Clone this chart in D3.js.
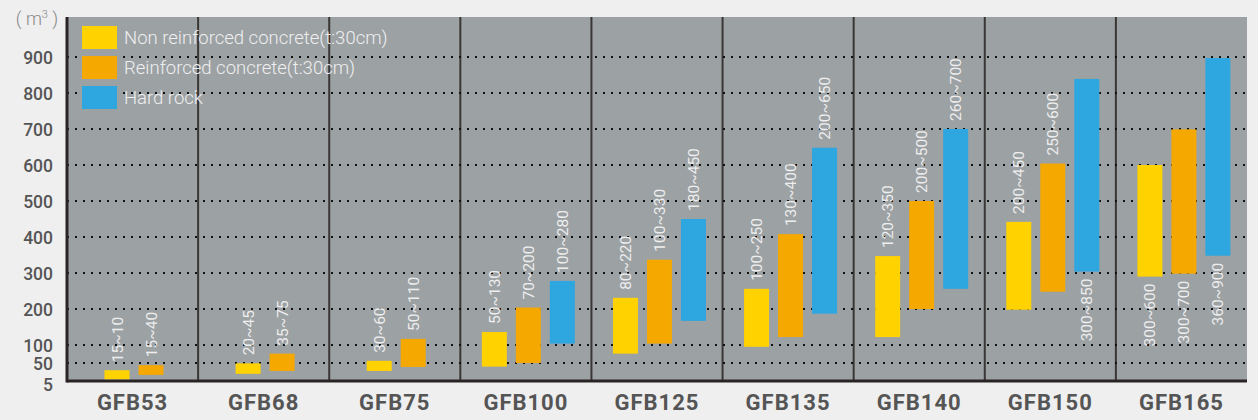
<!DOCTYPE html>
<html>
<head>
<meta charset="utf-8">
<script src="https://cdn.jsdelivr.net/npm/d3@7"></script>
<style>
  html, body { margin: 0; padding: 0; background: #efefef; }
  svg { display: block; }
</style>
</head>
<body>
<div id="chart"></div>
<script>
// categories and series (ranges, labels as printed)
const models = ['GFB53', 'GFB68', 'GFB75', 'GFB100', 'GFB125', 'GFB135', 'GFB140', 'GFB150', 'GFB165'];
const seriesNames = ['Non reinforced concrete(t:30cm)', 'Reinforced concrete(t:30cm)', 'Hard rock'];

const nonReinforcedLow  = [5, 20, 28, 40, 76, 95, 122, 198, 290];
const nonReinforcedHigh = [30, 49, 56, 136, 231, 256, 347, 442, 600];
const reinforcedLow     = [17, 28, 39, 50, 104, 122, 200, 248, 298];
const reinforcedHigh    = [44, 76, 117, 204, 337, 408, 500, 604, 699];
const hardRockLow       = [null, null, null, 104, 167, 187, 256, 304, 348];
const hardRockHigh      = [null, null, null, 278, 450, 648, 700, 839, 897];

const nonReinforcedText = ['15~10', '20~45', '30~60', '50~130', '80~220', '100~250', '120~350', '200~450', '300~600'];
const reinforcedText    = ['15~40', '35~75', '50~110', '70~200', '100~330', '130~400', '200~500', '250~600', '300~700'];
const hardRockText      = [null, null, null, '100~280', '180~450', '200~650', '260~700', '300~850', '360~900'];

// labels printed under the bar instead of above it
const labelsBelow = { 'GFB150': [2], 'GFB165': [0, 1, 2] };

const yTicks = [5, 50, 100, 200, 300, 400, 500, 600, 700, 800, 900];
const colors = ['#ffd200', '#f5a800', '#2ea6e0'];

const width = 1258, height = 420;
const plotLeft = 67, plotRight = 1247, plotTop = 17, axisY = 381;

const svg = d3.select('#chart').append('svg')
  .attr('width', width)
  .attr('height', height);

const x = d3.scaleBand().domain(models).range([plotLeft, plotRight]);
const y = d3.scaleLinear().domain([0, 900]).range([axisY, 57]);

// plot background
svg.append('rect')
  .attr('x', plotLeft).attr('y', plotTop)
  .attr('width', plotRight - plotLeft).attr('height', axisY - plotTop)
  .attr('fill', '#9ca1a4');

// separators between models
svg.append('g').selectAll('line')
  .data(models.slice(1))
  .join('line')
  .attr('x1', d => x(d)).attr('x2', d => x(d))
  .attr('y1', plotTop).attr('y2', axisY)
  .attr('stroke', '#3b3636')
  .attr('stroke-width', 2);

// dotted gridlines
svg.append('g').selectAll('line')
  .data(yTicks.filter(t => t > 5))
  .join('line')
  .attr('x1', plotLeft).attr('x2', plotRight)
  .attr('y1', d => y(d)).attr('y2', d => y(d))
  .attr('stroke', '#111')
  .attr('stroke-width', 2)
  .attr('stroke-dasharray', '2,6');

// left border and bottom axis
svg.append('line')
  .attr('x1', plotLeft).attr('x2', plotLeft)
  .attr('y1', plotTop).attr('y2', axisY + 1.5)
  .attr('stroke', '#2a2424').attr('stroke-width', 3);
svg.append('line')
  .attr('x1', plotLeft).attr('x2', plotRight)
  .attr('y1', axisY).attr('y2', axisY)
  .attr('stroke', '#2a2424').attr('stroke-width', 3);

// y axis tick labels
svg.append('g').selectAll('text')
  .data(yTicks)
  .join('text')
  .attr('x', 53)
  .attr('y', d => (d === 5 ? axisY + 3 : y(d)) + 6.5)
  .attr('text-anchor', 'end')
  .attr('font-family', 'Roboto, sans-serif')
  .attr('font-size', 17.5)
  .attr('font-weight', 500)
  .attr('fill', '#555')
  .text(d => d);

// unit
const unit = svg.append('text')
  .attr('x', 37).attr('y', 25)
  .attr('text-anchor', 'middle')
  .attr('font-family', 'Roboto, sans-serif')
  .attr('font-size', 18)
  .attr('font-weight', 300)
  .attr('fill', '#888');
unit.append('tspan').text('( ');
unit.append('tspan').text('m');
unit.append('tspan').attr('font-size', 11).attr('dy', -7).text('3');
unit.append('tspan').attr('dy', 7).text(' )');

// x labels
svg.append('g').selectAll('text')
  .data(models)
  .join('text')
  .attr('x', d => x(d) + x.bandwidth() / 2)
  .attr('y', 410)
  .attr('text-anchor', 'middle')
  .attr('font-family', 'Roboto, sans-serif')
  .attr('font-size', 22)
  .attr('font-weight', 700)
  .attr('letter-spacing', 1)
  .attr('fill', '#555')
  .text(d => d);

// build bar records
const barW = 25, step = 34;
const bars = [];
models.forEach((m, i) => {
  const lows = [nonReinforcedLow[i], reinforcedLow[i], hardRockLow[i]];
  const highs = [nonReinforcedHigh[i], reinforcedHigh[i], hardRockHigh[i]];
  const texts = [nonReinforcedText[i], reinforcedText[i], hardRockText[i]];
  const n = lows.filter(v => v !== null).length;
  const first = n === 3 ? 34 : 50;
  for (let s = 0; s < n; s++) {
    bars.push({
      model: m, s: s,
      cx: x(m) + first + s * step,
      low: lows[s], high: highs[s], text: texts[s],
      below: (labelsBelow[m] || []).includes(s)
    });
  }
});

svg.append('g').selectAll('rect')
  .data(bars)
  .join('rect')
  .attr('x', d => d.cx - barW / 2)
  .attr('y', d => y(d.high))
  .attr('width', barW)
  .attr('height', d => y(d.low) - y(d.high))
  .attr('fill', d => colors[d.s]);

svg.append('g').selectAll('text')
  .data(bars)
  .join('text')
  .attr('transform', d => {
    const ty = d.below ? y(d.low) + 7 : y(d.high) - 8;
    return `translate(${d.cx + 5.5},${ty}) rotate(-90)`;
  })
  .attr('text-anchor', d => d.below ? 'end' : 'start')
  .attr('font-family', 'Roboto, sans-serif')
  .attr('font-size', 15.5)
  .attr('font-weight', 400)
  .attr('fill', '#eeeeee')
  .text(d => d.text);

// legend
const legend = svg.append('g').selectAll('g')
  .data(seriesNames)
  .join('g')
  .attr('transform', (d, i) => `translate(82,${26 + i * 30})`);
legend.append('rect')
  .attr('width', 35).attr('height', 23)
  .attr('fill', (d, i) => colors[i]);
legend.append('text')
  .attr('x', 42).attr('y', 18)
  .attr('font-family', 'Roboto, sans-serif')
  .attr('font-size', 18.5)
  .attr('font-weight', 300)
  .attr('fill', '#efefef')
  .text(d => d);
</script>
</body>
</html>
